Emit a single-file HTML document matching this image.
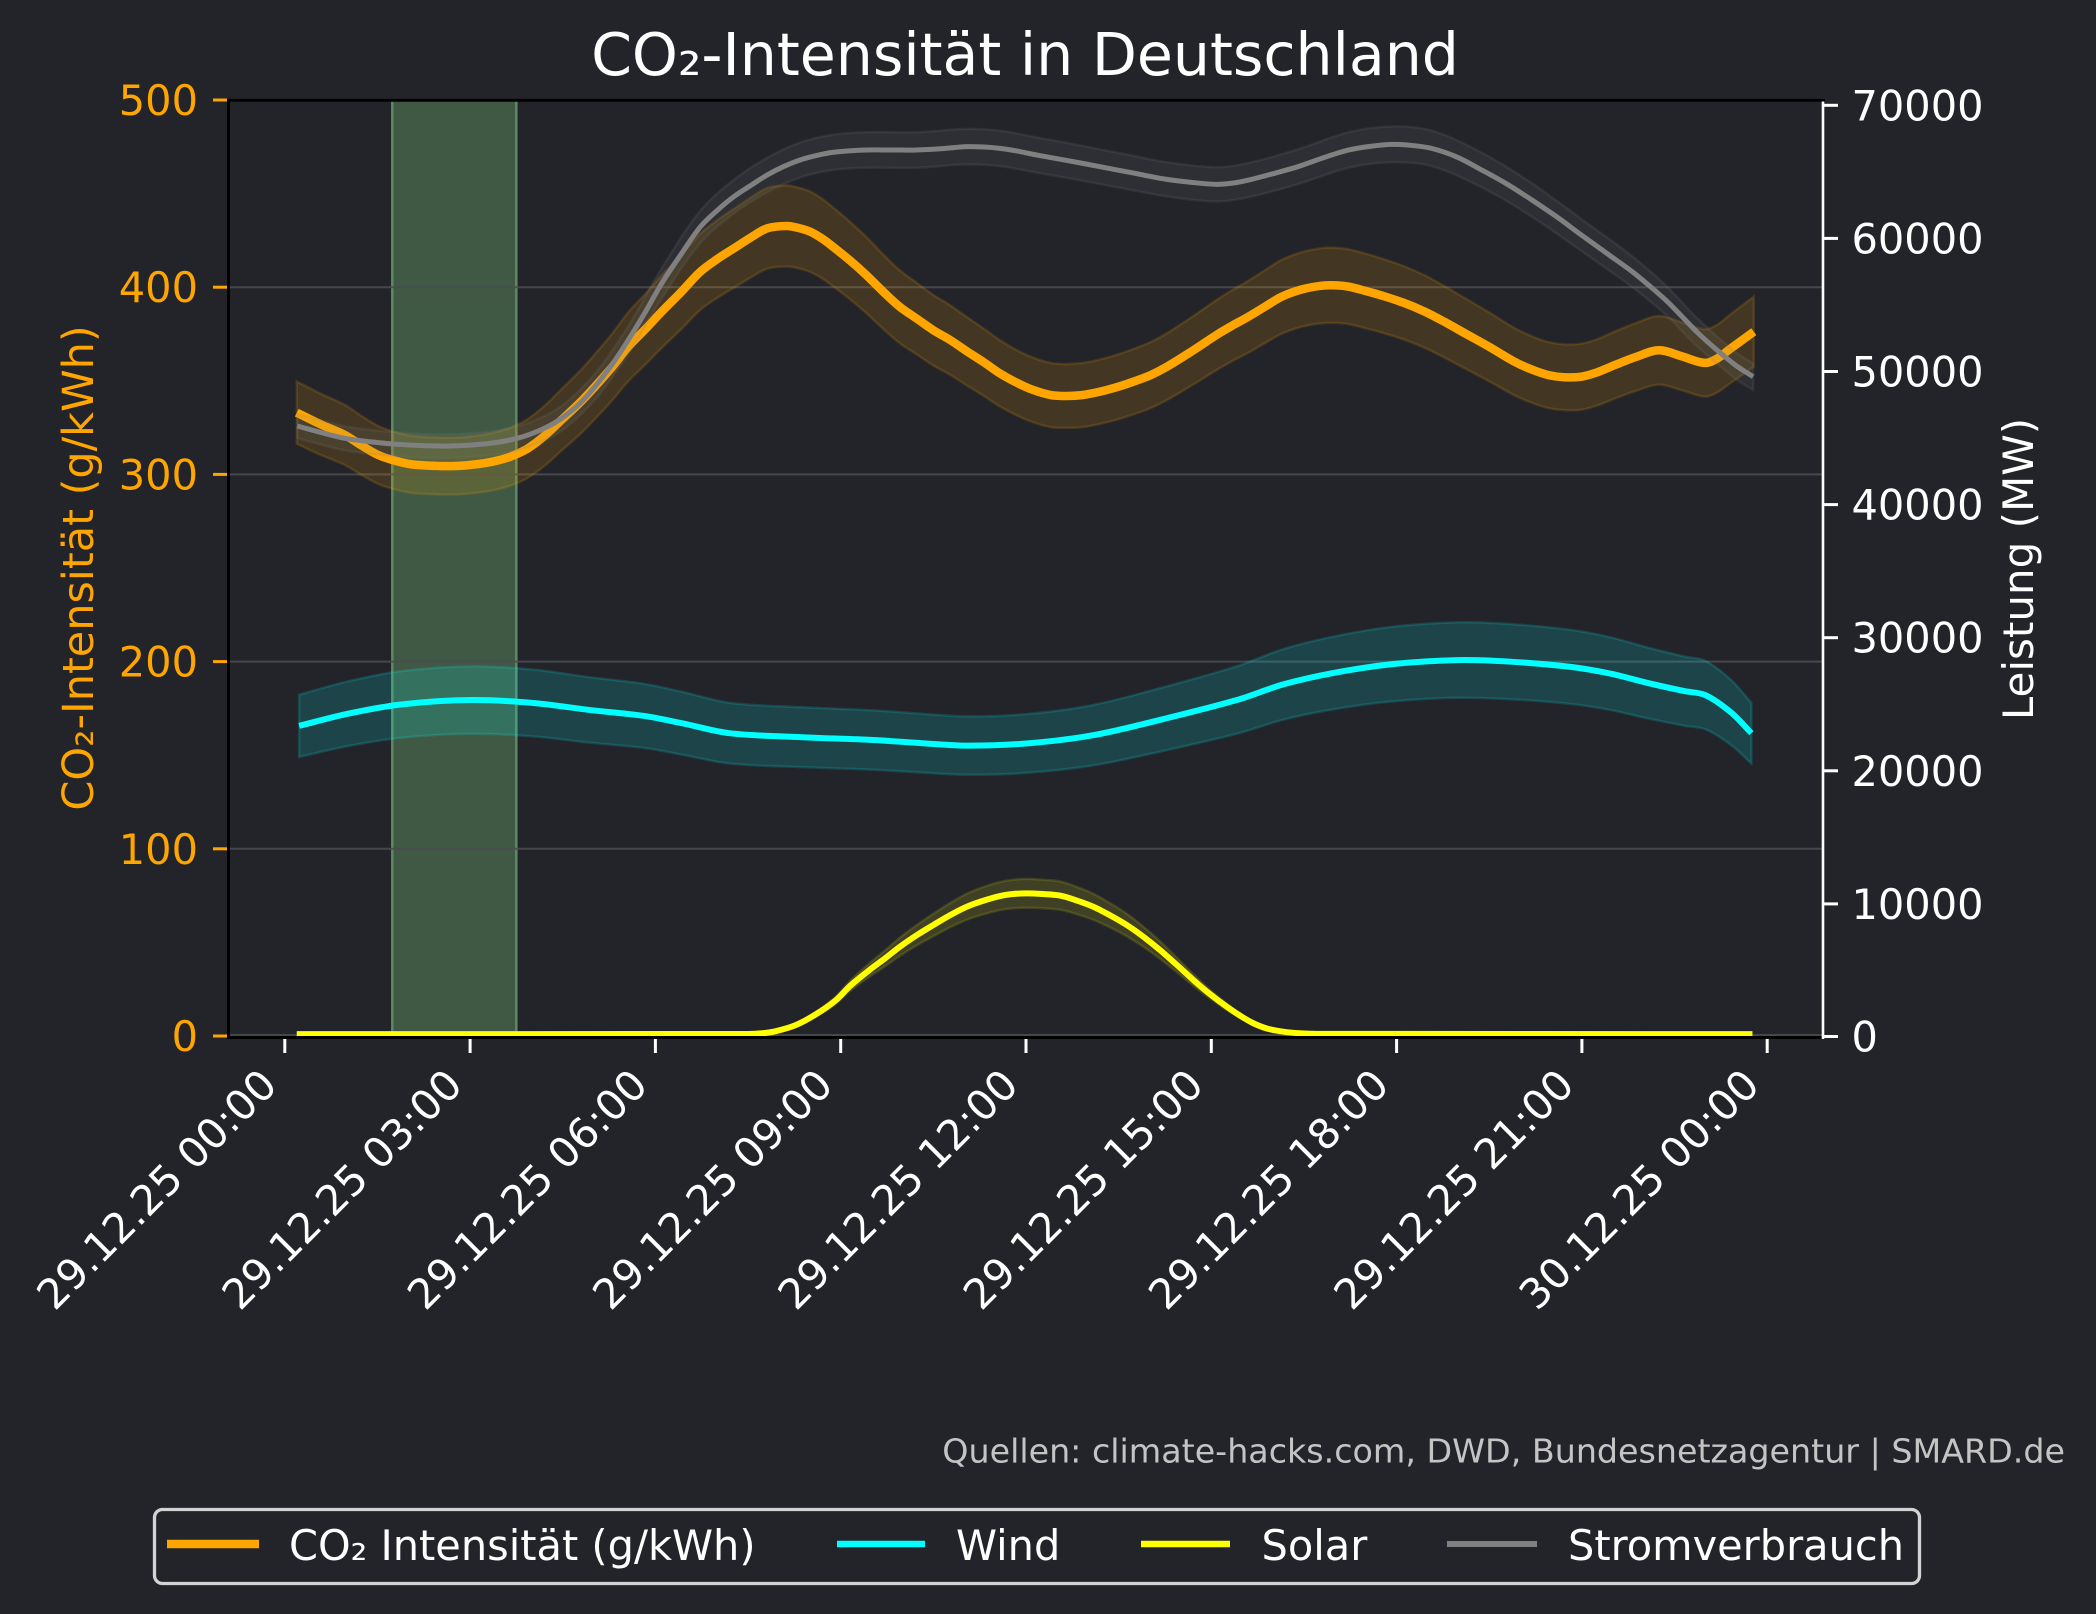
<!DOCTYPE html>
<html>
<head>
<meta charset="utf-8">
<style>
html,body{margin:0;padding:0;background:#23242a;}
svg{display:block;}
text{font-family:"DejaVu Sans","Liberation Sans",sans-serif;}
</style>
</head>
<body>
<svg width="2096" height="1614" viewBox="0 0 2096 1614" xmlns="http://www.w3.org/2000/svg">
<rect x="0" y="0" width="2096" height="1614" fill="#23242a"/>

<!-- green highlight band -->
<rect x="392.3" y="101" width="124" height="935" fill="#3f5944"/>
<line x1="392.3" y1="101" x2="392.3" y2="1036" stroke="#5b8a62" stroke-width="2.5"/>
<line x1="516.3" y1="101" x2="516.3" y2="1036" stroke="#5b8a62" stroke-width="2.5"/>

<!-- grid -->
<g stroke="#4a4b4f" stroke-width="2" stroke-opacity="0.9">
<line x1="229" y1="287.2" x2="1822" y2="287.2"/>
<line x1="229" y1="474.4" x2="1822" y2="474.4"/>
<line x1="229" y1="661.6" x2="1822" y2="661.6"/>
<line x1="229" y1="848.8" x2="1822" y2="848.8"/>
<line x1="229" y1="1035" x2="1822" y2="1035"/>
</g>

<g transform="scale(1.336735)">
<!-- CO2 band + line -->
<path class="sm" vector-effect="non-scaling-stroke" fill="#FFA500" fill-opacity="0.15" stroke="#FFA500" stroke-opacity="0.15" stroke-width="2.5"
d="M222,285.4 L240,294.6 L258,302.9 L270,310.9 L283,318.7 L295,323 L308,326 L328,327.3 L343,327.2 L358,325.7 L368,324 L378,321.3 L387,317.7 L395,313.4 L408,303 L420,291.2 L433,278.4 L445,265 L458,249.5 L470,233.6 L483,219.6 L495,206.1 L510,190.2 L524,174.6 L537,164.4 L549,156.3 L562,147.6 L574,140.6 L588.5,138.8 L597,140.3 L606,143.2 L615,148.7 L623,155 L636,166 L648,177.2 L660,189.6 L673,202.1 L686,211.7 L698,220.5 L711,228.5 L723,237 L736,245.8 L748,254.5 L761,262.1 L773,267.6 L786,271.5 L798,272.3 L810,271.5 L823,268.9 L836,265.2 L848,261 L861,255.8 L873,249.3 L892,236.9 L911,223.8 L922,216.9 L934,210 L947,201.7 L959,194.2 L974,188.6 L989,185.6 L1000,185.4 L1009,186.5 L1021,189.6 L1034,193.5 L1050,199.1 L1066,206.1 L1081,214.3 L1096,223.1 L1115,234.3 L1133,245.4 L1146,251.6 L1158,255.8 L1170,257.6 L1183,257.1 L1195,253.7 L1208,248 L1224,241.6 L1241,236.4 L1258,241.1 L1275.5,246.3 L1285,242.7 L1293,236.4 L1312,221.8 L1312,274.4 L1293,287.7 L1285,293.4 L1275.5,296.7 L1258,291.9 L1241,287.7 L1224,292.4 L1208,298.2 L1195,303.3 L1183,306.5 L1170,306.8 L1158,305.2 L1146,301.4 L1133,295.8 L1115,285.8 L1096,275.7 L1081,267.7 L1066,260.3 L1050,253.9 L1034,248.9 L1021,245.4 L1009,242.5 L1000,241.6 L989,241.8 L974,244.4 L959,249.6 L947,256.3 L934,263.8 L922,270.1 L911,276.3 L892,288.1 L873,299.3 L861,305.2 L848,310 L836,313.8 L823,317.1 L810,319.5 L798,320.1 L786,319.5 L773,316 L761,310.9 L748,304.1 L736,296.2 L723,288.2 L711,280.5 L698,273.3 L686,265.3 L673,256.7 L660,245.4 L648,234.2 L636,224 L623,214 L615,208.3 L606,203.4 L597,200.7 L588.5,199.4 L574,201 L562,207.4 L549,215.3 L537,222.6 L524,231.8 L510,245.9 L495,260.3 L483,272.5 L470,285.2 L458,299.5 L445,313.6 L433,325.7 L420,337.2 L408,348 L395,357.4 L387,361.3 L378,364.5 L368,367 L358,368.5 L343,369.8 L328,369.9 L308,368.8 L295,366 L283,362.1 L270,355.1 L258,347.9 L240,340.4 L222,332 Z"/>
<path class="sm" vector-effect="non-scaling-stroke" fill="none" stroke="#FFA500" stroke-width="8.5" stroke-linejoin="round"
d="M222,308.7 L240,317.5 L258,325.4 L270,333 L283,340.4 L295,344.5 L308,347.4 L328,348.6 L343,348.5 L358,347.1 L368,345.5 L378,342.9 L387,339.5 L395,335.4 L408,325.5 L420,314.2 L433,302 L445,289.3 L458,274.5 L470,259.4 L483,246 L495,233.2 L510,218 L524,203.2 L537,193.5 L549,185.8 L562,177.5 L574,170.8 L588.5,169.1 L597,170.5 L606,173.3 L615,178.5 L623,184.5 L636,195 L648,205.7 L660,217.5 L673,229.4 L686,238.5 L698,246.9 L711,254.5 L723,262.6 L736,271 L748,279.3 L761,286.5 L773,291.8 L786,295.5 L798,296.2 L810,295.5 L823,293 L836,289.5 L848,285.5 L861,280.5 L873,274.3 L892,262.5 L911,250 L922,243.5 L934,236.9 L947,229 L959,221.9 L974,216.5 L989,213.7 L1000,213.5 L1009,214.5 L1021,217.5 L1034,221.2 L1050,226.5 L1066,233.2 L1081,241 L1096,249.4 L1115,260 L1133,270.6 L1146,276.5 L1158,280.5 L1170,282.2 L1183,281.8 L1195,278.5 L1208,273.1 L1224,267 L1241,262 L1258,266.5 L1275.5,271.5 L1285,268 L1293,262 L1312,248.1"/>

<!-- Wind -->
<path class="sm" vector-effect="non-scaling-stroke" fill="#00FFFF" fill-opacity="0.15" stroke="#00FFFF" stroke-opacity="0.15" stroke-width="2.5"
d="M223.8,519.7 L260,509.8 L300,502.1 L352.6,498.5 L400,501 L440,506.5 L481.4,511.5 L510,517.5 L545.8,525.8 L600,529.1 L653.2,531.4 L690,534 L724.8,536 L770,534 L817.8,527.4 L870,514.2 L925.2,498.5 L960,485.6 L996.7,476.4 L1040,469.1 L1089.8,465.6 L1130,466.9 L1175.7,471.3 L1205,476.8 L1232.9,484.5 L1260,491.1 L1275.8,494.4 L1295,508.7 L1310.2,525.8 L1310.2,571.2 L1295,557.3 L1275.8,545.6 L1260,542.9 L1232.9,537.5 L1205,531.2 L1175.7,526.7 L1130,523.1 L1089.8,522 L1040,524.9 L996.7,530.8 L960,538.4 L925.2,548.9 L870,561.8 L817.8,572.6 L770,578 L724.8,579.6 L690,578 L653.2,575.8 L600,573.9 L545.8,571.2 L510,564.5 L481.4,559.5 L440,555.5 L400,551 L352.6,548.9 L300,551.9 L260,558.2 L223.8,566.3 Z"/>
<path class="sm" vector-effect="non-scaling-stroke" fill="none" stroke="#00FFFF" stroke-width="6" stroke-linejoin="round"
d="M223.8,543 L260,534 L300,527 L352.6,523.7 L400,526 L440,531 L481.4,535.5 L510,541 L545.8,548.5 L600,551.5 L653.2,553.6 L690,556 L724.8,557.8 L770,556 L817.8,550 L870,538 L925.2,523.7 L960,512 L996.7,503.6 L1040,497 L1089.8,493.8 L1130,495 L1175.7,499 L1205,504 L1232.9,511 L1260,517 L1275.8,520 L1295,533 L1310.2,548.5"/>

<!-- Solar -->
<path class="sm" vector-effect="non-scaling-stroke" fill="#FFFF00" fill-opacity="0.13" stroke="#FFFF00" stroke-opacity="0.13" stroke-width="2.5"
d="M580,771.3 L595,766.1 L610,757.3 L625,745.8 L636,733.7 L650,721 L662,711.1 L673.3,701.4 L686,691.9 L698.2,683.6 L711,675.4 L723.2,668.6 L735,663.8 L748.1,659.8 L758,658.1 L768.1,657.5 L780,658.1 L793,659.4 L805,663.3 L817.9,668.6 L830,675.4 L842.9,683.6 L855,693 L867.8,704.2 L880,716.1 L892.7,728.8 L905,740.3 L917.7,750.8 L928,758.4 L937.6,764.5 L948,768.9 L960,771.4 L972,772.8 L972,773.2 L960,772.2 L948,770.1 L937.6,766.5 L928,761.6 L917.7,755.4 L905,746.7 L892.7,737.4 L880,726.9 L867.8,717.2 L855,708 L842.9,700.4 L830,693.6 L817.9,688.1 L805,683.7 L793,680.6 L780,679.5 L768.1,679.1 L758,679.5 L748.1,680.9 L735,684.2 L723.2,688.1 L711,693.6 L698.2,700.4 L686,707.1 L673.3,715 L662,722.9 L650,731 L636,741.3 L625,751.2 L610,760.7 L595,767.9 L580,771.7 Z"/>
<path class="sm" vector-effect="non-scaling-stroke" fill="none" stroke="#FFFF00" stroke-width="6" stroke-linejoin="round"
d="M222,773.6 L560,773.5 L570,773 L580,771.5 L595,767 L610,759 L625,748.5 L636,737.5 L650,726 L662,717 L673.3,708.2 L686,699.5 L698.2,692 L711,684.5 L723.2,678.3 L735,674 L748.1,670.3 L758,668.8 L768.1,668.3 L780,668.8 L793,670 L805,673.5 L817.9,678.3 L830,684.5 L842.9,692 L855,700.5 L867.8,710.7 L880,721.5 L892.7,733.1 L905,743.5 L917.7,753.1 L928,760 L937.6,765.5 L948,769.5 L960,771.8 L972,773 L985,773.4 L1311,773.6"/>

<!-- Stromverbrauch -->
<path class="sm" vector-effect="non-scaling-stroke" fill="#808080" fill-opacity="0.12" stroke="#808080" stroke-opacity="0.15" stroke-width="2.5"
d="M222.4,309.6 L258,318.9 L295,323.3 L333,324.9 L370,322.3 L395,316.4 L420,303.7 L445,279.6 L470,244 L495,200.7 L524,157.5 L549,134.5 L574,118 L598.5,106.6 L623,100.8 L648,98.9 L686,98.9 L723,96.4 L748,97.7 L773,102.3 L798,106.9 L823,111.7 L848,116.6 L873,121.4 L910,125.1 L934,121.9 L971,111.7 L1009,98.9 L1041,94.6 L1071,97.7 L1108.5,114.2 L1146,137.1 L1183,163.8 L1221,191.7 L1246,213.4 L1270.5,238.9 L1298,263 L1311.5,271.9 L1311.5,291.7 L1298,283.1 L1270.5,259.9 L1246,235.4 L1221,214.7 L1183,187.8 L1146,162.1 L1108.5,140.2 L1071,124.3 L1041,121.4 L1009,125.5 L971,137.7 L934,147.5 L910,150.7 L873,147 L848,142.4 L823,137.7 L798,133.1 L773,128.7 L748,124.3 L723,123 L686,125.5 L648,125.5 L623,127.2 L598.5,132.8 L574,143.8 L549,159.7 L524,181.7 L495,223.3 L470,264.8 L445,299 L420,322.3 L395,334.4 L370,340.1 L333,342.5 L295,341.1 L258,336.9 L222.4,327.8 Z"/>
<path class="sm" vector-effect="non-scaling-stroke" fill="none" stroke="#808080" stroke-width="5" stroke-linejoin="round"
d="M222.4,318.7 L240,323.5 L258,327.9 L277,330.5 L295,332.2 L314,333.3 L333,333.7 L352,333 L370,331.2 L383,328.8 L395,325.4 L408,320 L420,313 L433,302.5 L445,289.3 L458,272.5 L470,254.4 L483,233 L495,212 L510,189.5 L524,169.6 L537,157 L549,147.1 L562,138.5 L574,130.9 L586,124.7 L598.5,119.7 L611,116.3 L623,114 L636,112.8 L648,112.2 L667,112.2 L686,112.2 L705,111.2 L723,109.7 L736,110 L748,111 L761,113 L773,115.5 L798,120 L823,124.7 L848,129.5 L873,134.2 L892,136.5 L910,137.9 L922,137 L934,134.7 L952,130 L971,124.7 L990,118 L1009,112.2 L1025,109.5 L1041,108 L1056,108.8 L1071,111 L1090,117.5 L1108.5,127.2 L1127,137.5 L1146,149.6 L1165,162.5 L1183,175.8 L1202,189.5 L1221,203.2 L1233,213 L1246,224.4 L1258,236.5 L1270.5,249.4 L1284,261.5 L1298,273 L1311.5,281.8"/>
</g>

<!-- spines -->
<line x1="228.5" y1="99" x2="228.5" y2="1039" stroke="#000" stroke-width="3"/>
<line x1="227" y1="100.3" x2="1825" y2="100.3" stroke="#000" stroke-width="2.8"/>
<line x1="227" y1="1037.5" x2="1824" y2="1037.5" stroke="#000" stroke-width="3"/>
<line x1="1823" y1="101.5" x2="1823" y2="1039" stroke="#ffffff" stroke-width="2.6"/>

<!-- left ticks -->
<g stroke="#FFA500" stroke-width="3">
<line x1="213" y1="100" x2="227" y2="100"/>
<line x1="213" y1="287.2" x2="227" y2="287.2"/>
<line x1="213" y1="474.4" x2="227" y2="474.4"/>
<line x1="213" y1="661.6" x2="227" y2="661.6"/>
<line x1="213" y1="848.8" x2="227" y2="848.8"/>
<line x1="213" y1="1036" x2="227" y2="1036"/>
</g>
<g fill="#FFA500" font-size="41.5" text-anchor="end">
<text x="198" y="115">500</text>
<text x="198" y="302.2">400</text>
<text x="198" y="489.4">300</text>
<text x="198" y="676.6">200</text>
<text x="198" y="863.8">100</text>
<text x="198" y="1051">0</text>
</g>

<!-- right ticks -->
<g stroke="#ffffff" stroke-width="3">
<line x1="1824" y1="105.3" x2="1838" y2="105.3"/>
<line x1="1824" y1="238.4" x2="1838" y2="238.4"/>
<line x1="1824" y1="371.5" x2="1838" y2="371.5"/>
<line x1="1824" y1="504.6" x2="1838" y2="504.6"/>
<line x1="1824" y1="637.7" x2="1838" y2="637.7"/>
<line x1="1824" y1="770.8" x2="1838" y2="770.8"/>
<line x1="1824" y1="903.9" x2="1838" y2="903.9"/>
<line x1="1824" y1="1036.5" x2="1838" y2="1036.5"/>
</g>
<g fill="#ffffff" font-size="41.5" text-anchor="start">
<text x="1851.5" y="120.3">70000</text>
<text x="1851.5" y="253.4">60000</text>
<text x="1851.5" y="386.5">50000</text>
<text x="1851.5" y="519.6">40000</text>
<text x="1851.5" y="652.7">30000</text>
<text x="1851.5" y="785.8">20000</text>
<text x="1851.5" y="918.9">10000</text>
<text x="1851.5" y="1051.5">0</text>
</g>

<!-- bottom ticks -->
<g stroke="#ffffff" stroke-width="3">
<line x1="284.8" y1="1039" x2="284.8" y2="1053"/>
<line x1="470.1" y1="1039" x2="470.1" y2="1053"/>
<line x1="655.4" y1="1039" x2="655.4" y2="1053"/>
<line x1="840.7" y1="1039" x2="840.7" y2="1053"/>
<line x1="1026" y1="1039" x2="1026" y2="1053"/>
<line x1="1211.3" y1="1039" x2="1211.3" y2="1053"/>
<line x1="1396.6" y1="1039" x2="1396.6" y2="1053"/>
<line x1="1581.9" y1="1039" x2="1581.9" y2="1053"/>
<line x1="1767.2" y1="1039" x2="1767.2" y2="1053"/>
</g>
<g fill="#ffffff" font-size="41.5" text-anchor="end">
<text transform="translate(279.2,1087.3) rotate(-45)">29.12.25 00:00</text>
<text transform="translate(464.5,1087.3) rotate(-45)">29.12.25 03:00</text>
<text transform="translate(649.8,1087.3) rotate(-45)">29.12.25 06:00</text>
<text transform="translate(835.1,1087.3) rotate(-45)">29.12.25 09:00</text>
<text transform="translate(1020.4,1087.3) rotate(-45)">29.12.25 12:00</text>
<text transform="translate(1205.7,1087.3) rotate(-45)">29.12.25 15:00</text>
<text transform="translate(1391,1087.3) rotate(-45)">29.12.25 18:00</text>
<text transform="translate(1576.3,1087.3) rotate(-45)">29.12.25 21:00</text>
<text transform="translate(1761.6,1087.3) rotate(-45)">30.12.25 00:00</text>
</g>

<!-- axis labels -->
<text transform="translate(93,568) rotate(-90)" text-anchor="middle" fill="#FFA500" font-size="43">CO₂-Intensität (g/kWh)</text>
<text transform="translate(2033,569) rotate(-90)" text-anchor="middle" fill="#ffffff" font-size="42">Leistung (MW)</text>

<!-- title -->
<text x="1025" y="75" text-anchor="middle" fill="#ffffff" font-size="58.5">CO₂-Intensität in Deutschland</text>

<!-- source -->
<text x="2065" y="1462.5" text-anchor="end" fill="#c4c4c4" font-size="33.3">Quellen: climate-hacks.com, DWD, Bundesnetzagentur | SMARD.de</text>

<!-- legend -->
<rect x="154.5" y="1509.5" width="1765" height="74" rx="8" ry="8" fill="#23242a" stroke="#d3d3d3" stroke-width="3.3"/>
<line x1="167" y1="1544" x2="259" y2="1544" stroke="#FFA500" stroke-width="8.5"/>
<line x1="837" y1="1544" x2="925" y2="1544" stroke="#00FFFF" stroke-width="6.5"/>
<line x1="1141" y1="1544" x2="1230" y2="1544" stroke="#FFFF00" stroke-width="6.5"/>
<line x1="1447" y1="1544" x2="1537" y2="1544" stroke="#808080" stroke-width="6"/>
<g fill="#ffffff" font-size="41.5">
<text x="289" y="1560">CO₂ Intensität (g/kWh)</text>
<text x="956" y="1560">Wind</text>
<text x="1261.5" y="1560">Solar</text>
<text x="1568" y="1560">Stromverbrauch</text>
</g>
</svg>
<script>
(function(){
  function dir(a,b){var dx=b[0]-a[0],dy=b[1]-a[1],l=Math.sqrt(dx*dx+dy*dy)||1;return [dx/l,dy/l];}
  function cr(a,start){
    var s=(start?'M':'L')+a[0][0]+','+a[0][1];
    for(var i=0;i<a.length-1;i++){
      var p0=a[Math.max(i-1,0)],p1=a[i],p2=a[i+1],p3=a[Math.min(i+2,a.length-1)];
      var dx=p2[0]-p1[0],dy=p2[1]-p1[1],L=Math.sqrt(dx*dx+dy*dy)/3;
      var t1=dir(p0,p2),t2=dir(p1,p3);
      var c1x=p1[0]+t1[0]*L,c1y=p1[1]+t1[1]*L,c2x=p2[0]-t2[0]*L,c2y=p2[1]-t2[1]*L;
      s+=' C'+c1x.toFixed(2)+','+c1y.toFixed(2)+' '+c2x.toFixed(2)+','+c2y.toFixed(2)+' '+p2[0]+','+p2[1];
    }
    return s;
  }
  var ps=document.querySelectorAll('path.sm');
  for(var k=0;k<ps.length;k++){
    var p=ps[k],d=p.getAttribute('d'),closed=/Z/.test(d);
    var nums=d.replace(/[MLZ]/g,' ').trim().split(/[\s,]+/).map(Number);
    var pts=[];for(var i=0;i+1<nums.length;i+=2)pts.push([nums[i],nums[i+1]]);
    var nd;
    if(closed){var h=pts.length/2;nd=cr(pts.slice(0,h),true)+' '+cr(pts.slice(h),false)+' Z';}
    else nd=cr(pts,true);
    p.setAttribute('d',nd);
  }
})();
</script>
</body>
</html>
